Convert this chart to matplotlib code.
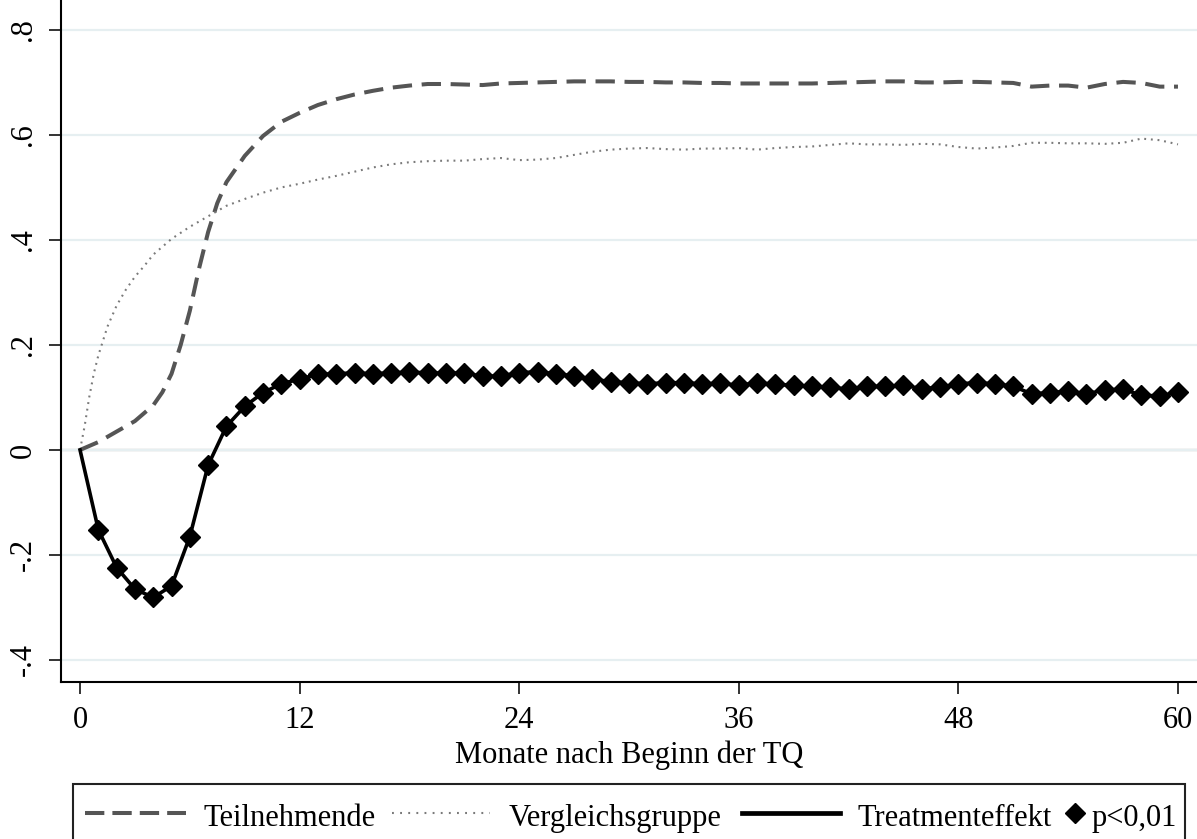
import matplotlib
matplotlib.use("Agg")
import matplotlib.pyplot as plt
from matplotlib.lines import Line2D
from matplotlib.patches import Rectangle

# Monate nach Beginn der TQ
teil_monate = [0, 1, 2, 3, 4, 4.5, 5, 5.5, 6, 6.5, 7, 7.5, 8, 9, 10, 11, 12, 13, 14, 15,
               16, 17, 18, 19, 20, 21, 22, 23, 24, 25, 26, 27, 28, 29, 30, 31, 32, 33,
               34, 35, 36, 37, 38, 39, 40, 41, 42, 43, 44, 45, 46, 47, 48, 49, 50, 51,
               52, 53, 54, 55, 56, 57, 58, 59, 60]
teilnehmende = [0, 0.015, 0.035, 0.055, 0.085, 0.11, 0.145, 0.20, 0.265, 0.345, 0.415,
                0.47, 0.51, 0.56, 0.598, 0.625, 0.642, 0.657, 0.668, 0.677,
                0.684, 0.69, 0.694, 0.697, 0.697, 0.696, 0.695, 0.698, 0.699, 0.700,
                0.701, 0.702, 0.702, 0.702, 0.701, 0.701, 0.700, 0.700, 0.699, 0.699,
                0.698, 0.698, 0.698, 0.698, 0.698, 0.699, 0.700, 0.701, 0.702, 0.702,
                0.700, 0.700, 0.701, 0.701, 0.700, 0.699, 0.692, 0.694, 0.694, 0.690,
                0.697, 0.701, 0.699, 0.692, 0.692]

verg_monate = [0, 0.25, 0.5, 0.75, 1, 1.5, 2, 2.5, 3, 3.5, 4, 5, 6, 7, 8, 9, 10, 11, 12,
               13, 14, 15, 16, 17, 18, 19, 20, 21, 22, 23, 24, 25, 26, 27, 28, 29, 30,
               31, 32, 33, 34, 35, 36, 37, 38, 39, 40, 41, 42, 43, 44, 45, 46, 47, 48,
               49, 50, 51, 52, 53, 54, 55, 56, 57, 58, 59, 60]
vergleichsgruppe = [0, 0.045, 0.10, 0.145, 0.18, 0.235, 0.275, 0.305, 0.33, 0.35, 0.372,
                    0.402, 0.425, 0.445, 0.465, 0.478, 0.49, 0.50, 0.507,
                    0.515, 0.522, 0.53, 0.538, 0.544, 0.548, 0.550, 0.551, 0.551, 0.554,
                    0.556, 0.552, 0.553, 0.556, 0.562, 0.568, 0.572, 0.574,
                    0.575, 0.573, 0.572, 0.574, 0.574, 0.575, 0.572, 0.575, 0.577, 0.578,
                    0.581, 0.584, 0.582, 0.582, 0.581, 0.583, 0.582, 0.577,
                    0.574, 0.576, 0.579, 0.585, 0.585, 0.584, 0.584, 0.583, 0.585, 0.593,
                    0.590, 0.582]

monate = list(range(61))
effekt = [0, -0.152, -0.224, -0.265, -0.281, -0.259, -0.165, -0.029, 0.045, 0.083,
          0.109, 0.126, 0.135, 0.144, 0.145, 0.147, 0.145, 0.147, 0.148, 0.147,
          0.146, 0.147, 0.140, 0.141, 0.147, 0.149, 0.145, 0.141, 0.135, 0.130,
          0.128, 0.126, 0.128, 0.128, 0.126, 0.127, 0.123, 0.128, 0.125, 0.123,
          0.121, 0.119, 0.116, 0.121, 0.121, 0.123, 0.117, 0.119, 0.126, 0.128,
          0.126, 0.121, 0.107, 0.109, 0.112, 0.107, 0.114, 0.116, 0.104, 0.103,
          0.110]
# Monate mit p<0,01
signifikant = list(range(1, 61))

x_ticks = [0, 12, 24, 36, 48, 60]
y_ticks = [-0.4, -0.2, 0, 0.2, 0.4, 0.6, 0.8]
y_labels = ['-.4', '-.2', '0', '.2', '.4', '.6', '.8']

plt.rcParams['font.family'] = ['Liberation Serif', 'DejaVu Serif']

W, H = 1197, 839
fig = plt.figure(figsize=(W / 100, H / 100), dpi=100)
ax = fig.add_axes([61 / W, 1 - 682 / H, 1136 / W, 682 / H])

dash_grau = '#555555'
dot_grau = '#7a7a7a'

ax.grid(axis='y', color='#e6eff1', lw=1.6, zorder=0)
ax.axhline(0, color='black', lw=1.5, zorder=1)

ax.plot(teil_monate, teilnehmende, color=dash_grau, lw=2.9,
        linestyle=(0, (4.8, 2.4)), zorder=2)
ax.plot(verg_monate, vergleichsgruppe, color=dot_grau, lw=1.5,
        linestyle=(0, (0.9, 2.3)), zorder=2)
ax.plot(monate, effekt, color='black', lw=2.6, zorder=3)
sig_y = [effekt[m] for m in signifikant]
ax.plot(signifikant, sig_y, linestyle='none', marker='D', ms=9.8,
        color='black', zorder=4)

ax.set_xlim(-1.04, 61.04)
ax.set_ylim(-0.442, 0.857)
ax.set_xticks(x_ticks)
ax.set_xticklabels([str(t) for t in x_ticks])
ax.set_yticks(y_ticks)
ax.set_yticklabels(y_labels, rotation=90, va='center')
ax.tick_params(axis='both', length=8.6, width=1.4, color='#333333', labelsize=22)
ax.tick_params(axis='x', pad=9)
ax.tick_params(axis='y', pad=8)
ax.set_xlabel('Monate nach Beginn der TQ', fontsize=22, labelpad=4)

for s in ['top', 'right']:
    ax.spines[s].set_visible(False)
for s in ['left', 'bottom']:
    ax.spines[s].set_linewidth(1.5)
    ax.spines[s].set_color('black')


def fx(px):
    return px / W


def fy(py):
    return 1 - py / H


# Legende (unten, abgeschnitten wie im Original)
fig.add_artist(Rectangle((fx(73), fy(870)), fx(1185) - fx(73), fy(784) - fy(870),
                         transform=fig.transFigure, fill=False, lw=1.5,
                         edgecolor='#222222'))
ly = fy(813)
fig.add_artist(Line2D([fx(85), fx(186)], [ly, ly], transform=fig.transFigure,
                      color=dash_grau, lw=2.9, linestyle=(0, (4.8, 2.0))))
fig.add_artist(Line2D([fx(392), fx(490)], [ly, ly], transform=fig.transFigure,
                      color=dot_grau, lw=1.5, linestyle=(0, (0.9, 3.0))))
fig.add_artist(Line2D([fx(742), fx(840)], [ly, ly], transform=fig.transFigure,
                      color='black', lw=3.4))
fig.add_artist(Line2D([fx(1075)], [ly], transform=fig.transFigure, marker='D',
                      ms=9.8, color='black', linestyle='none'))
ty = fy(826)
fig.text(fx(203), ty, 'Teilnehmende', fontsize=22, va='baseline')
fig.text(fx(509), ty, 'Vergleichsgruppe', fontsize=22, va='baseline')
fig.text(fx(858), ty, 'Treatmenteffekt', fontsize=22, va='baseline')
fig.text(fx(1092), ty, 'p<0,01', fontsize=22, va='baseline')

fig.savefig('out.png', dpi=100)
